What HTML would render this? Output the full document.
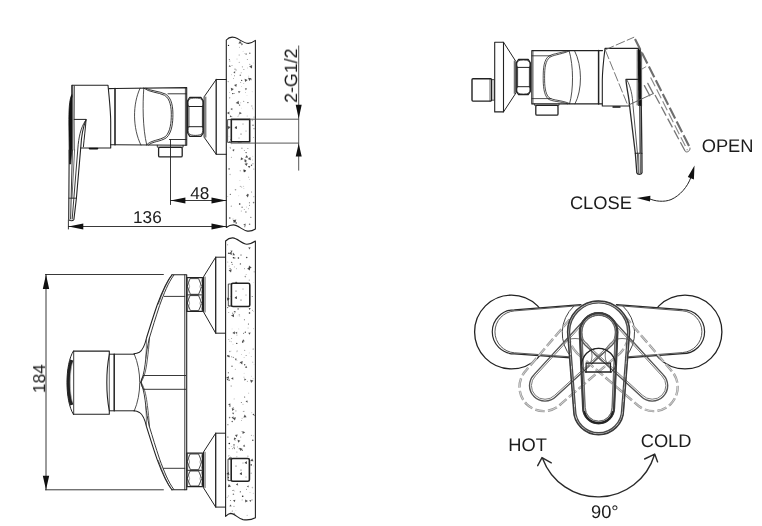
<!DOCTYPE html>
<html><head><meta charset="utf-8"><title>Faucet drawing</title>
<style>
html,body{margin:0;padding:0;background:#fff;}
body{width:762px;height:526px;overflow:hidden;}
svg{display:block;}
text{font-family:"Liberation Sans",sans-serif;fill:#1a1a1a;}
</style></head><body>
<svg width="762" height="526" viewBox="0 0 762 526">
<rect width="762" height="526" fill="#fff"/>
<g fill="none" stroke="#222" stroke-width="1" stroke-linecap="round" stroke-linejoin="round">

<!-- ================= VIEW 1 : side view top-left ================= -->
<!-- wall -->
<path d="M226.3,40 C229,37 232,36.6 235,37.6 C240,39.4 244,43.6 248.5,43.4 C251,43.2 253.5,41.8 255.4,40.4 L255.4,229 C253,230.6 250,231.4 247.4,231.1 C243,230.6 238,225 233.3,224.9 C230.5,224.9 228.3,226 226.3,227.5 Z" fill="#fff" stroke-width="1.1"/>
<g stroke="none">
<circle cx="236.1" cy="70.1" r="0.8" fill="#222" opacity="0.3"/>
<circle cx="229.4" cy="141.7" r="0.5" fill="#222" opacity="1"/>
<circle cx="229.0" cy="136.4" r="0.4" fill="#222" opacity="0.3"/>
<circle cx="239.1" cy="55.0" r="0.4" fill="#222" opacity="1"/>
<circle cx="238.8" cy="195.8" r="0.4" fill="#222" opacity="0.45"/>
<circle cx="244.3" cy="150.4" r="0.4" fill="#222" opacity="1"/>
<circle cx="243.1" cy="51.2" r="0.45" fill="#222" opacity="0.3"/>
<circle cx="242.4" cy="66.8" r="0.6" fill="#222" opacity="0.45"/>
<circle cx="241.9" cy="148.2" r="0.7" fill="#222" opacity="0.45"/>
<circle cx="230.3" cy="148.2" r="0.45" fill="#222" opacity="0.6"/>
<circle cx="230.1" cy="174.5" r="0.7" fill="#222" opacity="0.3"/>
<circle cx="244.0" cy="134.3" r="0.7" fill="#222" opacity="0.8"/>
<circle cx="248.3" cy="128.6" r="0.6" fill="#222" opacity="0.6"/>
<circle cx="235.5" cy="189.8" r="0.8" fill="#222" opacity="0.45"/>
<circle cx="229.7" cy="97.8" r="0.6" fill="#222" opacity="0.6"/>
<circle cx="247.0" cy="95.6" r="0.4" fill="#222" opacity="0.3"/>
<circle cx="241.2" cy="72.7" r="0.5" fill="#222" opacity="0.45"/>
<circle cx="252.4" cy="120.4" r="0.8" fill="#222" opacity="0.3"/>
<circle cx="247.9" cy="148.6" r="0.5" fill="#222" opacity="0.6"/>
<circle cx="246.1" cy="152.6" r="0.7" fill="#222" opacity="0.8"/>
<circle cx="229.3" cy="59.4" r="0.5" fill="#222" opacity="0.8"/>
<circle cx="246.1" cy="54.1" r="0.8" fill="#222" opacity="0.6"/>
<circle cx="244.8" cy="226.7" r="0.6" fill="#222" opacity="0.6"/>
<circle cx="246.6" cy="207.0" r="0.5" fill="#222" opacity="0.3"/>
<circle cx="252.6" cy="108.1" r="0.7" fill="#222" opacity="0.3"/>
<circle cx="240.7" cy="82.6" r="0.5" fill="#222" opacity="0.45"/>
<circle cx="247.2" cy="116.0" r="0.6" fill="#222" opacity="0.3"/>
<circle cx="231.9" cy="116.7" r="0.5" fill="#222" opacity="0.45"/>
<circle cx="249.4" cy="202.7" r="0.5" fill="#222" opacity="0.8"/>
<circle cx="253.8" cy="169.0" r="0.6" fill="#222" opacity="0.45"/>
<circle cx="231.5" cy="74.8" r="0.45" fill="#222" opacity="0.45"/>
<circle cx="227.8" cy="196.6" r="0.45" fill="#222" opacity="0.6"/>
<circle cx="235.0" cy="69.1" r="0.7" fill="#222" opacity="0.6"/>
<circle cx="243.8" cy="101.3" r="0.45" fill="#222" opacity="1"/>
<circle cx="252.9" cy="163.8" r="0.8" fill="#222" opacity="0.3"/>
<circle cx="239.7" cy="204.0" r="0.8" fill="#222" opacity="1"/>
<circle cx="238.0" cy="116.2" r="0.4" fill="#222" opacity="0.8"/>
<circle cx="244.4" cy="53.6" r="0.4" fill="#222" opacity="0.45"/>
<circle cx="239.3" cy="62.4" r="0.7" fill="#222" opacity="0.3"/>
<circle cx="230.2" cy="147.4" r="0.7" fill="#222" opacity="0.3"/>
<circle cx="252.8" cy="156.2" r="0.4" fill="#222" opacity="0.45"/>
<circle cx="243.9" cy="69.6" r="0.5" fill="#222" opacity="0.6"/>
<circle cx="243.6" cy="130.2" r="0.4" fill="#222" opacity="0.8"/>
<circle cx="254.0" cy="128.7" r="0.6" fill="#222" opacity="0.6"/>
<circle cx="229.8" cy="61.0" r="0.5" fill="#222" opacity="0.6"/>
<circle cx="240.3" cy="170.7" r="0.7" fill="#222" opacity="0.3"/>
<circle cx="233.0" cy="219.1" r="0.5" fill="#222" opacity="0.45"/>
<circle cx="245.9" cy="212.0" r="0.7" fill="#222" opacity="0.6"/>
<circle cx="253.6" cy="202.6" r="0.8" fill="#222" opacity="0.6"/>
<circle cx="241.3" cy="210.9" r="0.5" fill="#222" opacity="0.45"/>
<circle cx="241.7" cy="186.9" r="0.5" fill="#222" opacity="0.45"/>
<circle cx="243.9" cy="188.6" r="0.45" fill="#222" opacity="0.45"/>
<circle cx="249.3" cy="179.6" r="0.45" fill="#222" opacity="0.45"/>
<circle cx="241.3" cy="108.1" r="0.4" fill="#222" opacity="0.3"/>
<circle cx="248.6" cy="129.8" r="0.45" fill="#222" opacity="1"/>
<circle cx="253.0" cy="125.2" r="0.8" fill="#222" opacity="0.6"/>
<circle cx="253.0" cy="109.8" r="0.45" fill="#222" opacity="0.3"/>
<circle cx="233.6" cy="78.6" r="0.45" fill="#222" opacity="0.8"/>
<circle cx="244.2" cy="209.5" r="0.4" fill="#222" opacity="0.8"/>
<circle cx="251.8" cy="106.0" r="0.8" fill="#222" opacity="0.3"/>
<circle cx="249.8" cy="64.3" r="0.6" fill="#222" opacity="0.45"/>
<circle cx="240.3" cy="75.2" r="0.8" fill="#222" opacity="0.6"/>
<circle cx="229.8" cy="218.0" r="0.8" fill="#222" opacity="0.8"/>
<circle cx="239.9" cy="180.3" r="0.4" fill="#222" opacity="0.45"/>
<circle cx="232.0" cy="65.6" r="0.45" fill="#222" opacity="1"/>
<circle cx="251.7" cy="192.0" r="0.45" fill="#222" opacity="1"/>
<circle cx="249.6" cy="224.3" r="0.8" fill="#222" opacity="0.6"/>
<circle cx="231.7" cy="144.0" r="0.4" fill="#222" opacity="0.3"/>
<circle cx="248.8" cy="177.1" r="0.4" fill="#222" opacity="1"/>
<circle cx="247.5" cy="67.9" r="0.45" fill="#222" opacity="0.45"/>
<circle cx="228.2" cy="81.6" r="0.7" fill="#222" opacity="0.45"/>
<circle cx="247.9" cy="102.6" r="0.7" fill="#222" opacity="0.8"/>
<circle cx="249.8" cy="53.3" r="0.8" fill="#222" opacity="0.6"/>
<circle cx="251.5" cy="165.2" r="0.7" fill="#222" opacity="0.8"/>
<circle cx="249.6" cy="205.3" r="0.45" fill="#222" opacity="1"/>
<circle cx="231.6" cy="137.0" r="0.6" fill="#222" opacity="0.45"/>
<circle cx="243.7" cy="186.3" r="0.45" fill="#222" opacity="0.45"/>
<circle cx="231.3" cy="157.2" r="0.4" fill="#222" opacity="1"/>
<circle cx="229.1" cy="168.9" r="0.7" fill="#222" opacity="1"/>
<circle cx="240.4" cy="186.4" r="0.7" fill="#222" opacity="0.3"/>
<circle cx="234.1" cy="93.5" r="0.4" fill="#222" opacity="1"/>
<circle cx="239.6" cy="47.2" r="0.4" fill="#222" opacity="0.8"/>
<circle cx="236.2" cy="223.0" r="0.7" fill="#222" opacity="1"/>
<circle cx="232.8" cy="93.6" r="0.7" fill="#222" opacity="1"/>
<circle cx="249.1" cy="136.4" r="0.45" fill="#222" opacity="1"/>
<circle cx="250.9" cy="217.2" r="0.5" fill="#222" opacity="1"/>
<circle cx="251.3" cy="79.7" r="0.6" fill="#222" opacity="0.45"/>
<circle cx="238.6" cy="115.0" r="0.5" fill="#222" opacity="0.3"/>
<circle cx="245.4" cy="121.7" r="0.45" fill="#222" opacity="0.6"/>
<circle cx="248.4" cy="208.8" r="0.45" fill="#222" opacity="0.6"/>
<circle cx="231.3" cy="206.2" r="0.6" fill="#222" opacity="0.45"/>
<circle cx="247.4" cy="59.5" r="0.6" fill="#222" opacity="0.45"/>
<circle cx="253.9" cy="196.8" r="0.45" fill="#222" opacity="0.8"/>
<circle cx="254.0" cy="117.1" r="0.6" fill="#222" opacity="0.45"/>
<circle cx="237.0" cy="59.1" r="0.5" fill="#222" opacity="0.3"/>
<circle cx="236.5" cy="127.3" r="0.8" fill="#222" opacity="0.3"/>
<circle cx="237.8" cy="138.2" r="0.5" fill="#222" opacity="1"/>
<circle cx="253.2" cy="63.0" r="0.45" fill="#222" opacity="0.3"/>
<circle cx="229.7" cy="92.6" r="0.45" fill="#222" opacity="0.6"/>
<circle cx="247.7" cy="194.5" r="0.8" fill="#222" opacity="0.6"/>
<circle cx="238.3" cy="141.8" r="0.7" fill="#222" opacity="1"/>
<circle cx="240.7" cy="102.8" r="0.5" fill="#222" opacity="0.3"/>
<circle cx="248.8" cy="76.1" r="0.4" fill="#222" opacity="0.6"/>
<circle cx="252.6" cy="160.0" r="0.5" fill="#222" opacity="0.3"/>
<circle cx="243.7" cy="83.4" r="0.5" fill="#222" opacity="0.3"/>
<circle cx="239.6" cy="105.1" r="0.7" fill="#222" opacity="0.8"/>
<circle cx="252.2" cy="91.8" r="0.45" fill="#222" opacity="0.3"/>
<circle cx="241.6" cy="86.3" r="0.4" fill="#222" opacity="0.45"/>
<circle cx="234.5" cy="75.7" r="0.5" fill="#222" opacity="0.6"/>
<circle cx="241.7" cy="80.3" r="0.6" fill="#222" opacity="1"/>
<circle cx="245.4" cy="92.3" r="0.4" fill="#222" opacity="0.6"/>
<circle cx="228.5" cy="45.4" r="0.7" fill="#222" opacity="1"/>
<circle cx="253.6" cy="137.6" r="0.45" fill="#222" opacity="0.8"/>
<circle cx="230.3" cy="194.3" r="0.6" fill="#222" opacity="0.8"/>
<circle cx="242.1" cy="207.3" r="0.7" fill="#222" opacity="0.6"/>
<polygon points="245.5,223.4 245.6,226.0 243.3,224.7" fill="#333" opacity="0.85"/>
<polygon points="244.4,161.6 244.6,158.9 246.8,160.4" fill="#333" opacity="0.85"/>
<polygon points="229.7,64.9 230.9,66.7 228.7,66.8" fill="#333" opacity="0.85"/>
<polygon points="235.2,71.3 235.1,73.5 233.3,72.3" fill="#333" opacity="0.85"/>
<polygon points="249.2,168.2 247.8,166.1 250.4,165.9" fill="#333" opacity="0.85"/>
<polygon points="234.2,127.9 235.7,126.1 236.5,128.3" fill="#333" opacity="0.85"/>
<polygon points="232.8,220.3 236.3,219.5 235.2,222.9" fill="#333" opacity="0.85"/>
<polygon points="233.4,222.8 233.7,220.2 235.8,221.8" fill="#333" opacity="0.85"/>
<polygon points="226.9,113.0 229.4,111.6 229.3,114.4" fill="#333" opacity="0.85"/>
<polygon points="233.2,137.1 232.3,135.2 234.4,135.4" fill="#333" opacity="0.85"/>
<polygon points="231.9,116.5 229.9,117.3 230.2,115.2" fill="#333" opacity="0.85"/>
<polygon points="234.0,85.0 236.8,84.0 236.3,86.9" fill="#333" opacity="0.85"/>
<polygon points="247.6,163.0 246.7,166.1 244.5,163.8" fill="#333" opacity="0.85"/>
<polygon points="239.0,104.3 235.7,102.9 238.6,100.8" fill="#333" opacity="0.85"/>
<polygon points="246.3,160.6 246.3,162.7 244.4,161.6" fill="#333" opacity="0.85"/>
<polygon points="250.3,157.0 250.8,160.2 247.8,158.9" fill="#333" opacity="0.85"/>
<polygon points="232.6,138.0 232.6,140.9 230.1,139.4" fill="#333" opacity="0.85"/>
<polygon points="248.9,194.6 247.8,197.4 246.0,195.1" fill="#333" opacity="0.85"/>
<polygon points="246.1,171.2 243.8,172.0 244.2,169.6" fill="#333" opacity="0.85"/>
<polygon points="232.3,108.0 232.3,110.2 230.4,109.1" fill="#333" opacity="0.85"/>
<polygon points="241.0,157.2 243.5,158.9 240.7,160.2" fill="#333" opacity="0.85"/>
<polygon points="240.1,40.7 241.8,43.6 238.4,43.6" fill="#333" opacity="0.85"/>
<polygon points="242.1,142.3 239.0,142.6 240.2,139.8" fill="#333" opacity="0.85"/>
<polygon points="245.8,90.2 244.9,88.2 247.1,88.4" fill="#333" opacity="0.85"/>
<polygon points="247.6,79.9 245.1,81.9 244.6,78.7" fill="#333" opacity="0.85"/>
<polygon points="239.5,111.7 241.8,113.3 239.2,114.5" fill="#333" opacity="0.85"/>
<polygon points="248.2,157.6 245.2,157.7 246.6,155.0" fill="#333" opacity="0.85"/>
<polygon points="231.4,91.0 230.8,87.8 233.8,88.9" fill="#333" opacity="0.85"/>
<polygon points="241.8,45.6 240.9,43.6 243.1,43.8" fill="#333" opacity="0.85"/>
<polygon points="244.0,172.5 243.1,169.5 246.2,170.3" fill="#333" opacity="0.85"/>
<polygon points="241.9,129.5 239.2,128.9 241.1,126.8" fill="#333" opacity="0.85"/>
<polygon points="251.6,78.2 249.4,81.1 248.0,77.8" fill="#333" opacity="0.85"/>
<polygon points="230.8,127.0 228.3,129.2 227.6,125.9" fill="#333" opacity="0.85"/>
<polygon points="240.5,91.5 238.9,93.3 238.1,91.1" fill="#333" opacity="0.85"/>
<polygon points="232.2,150.0 234.3,149.1 234.0,151.4" fill="#333" opacity="0.85"/>
<polygon points="249.1,66.6 252.1,65.0 252.0,68.4" fill="#333" opacity="0.85"/>
</g>
<!-- pipe socket -->
<rect x="231.3" y="119.4" width="18.4" height="22.4" stroke-width="1.6" fill="#fff"/>
<g stroke="none"><circle cx="236" cy="127" r="0.5" fill="#222"/><polygon points="234.5,128 236.6,126 237,129" fill="#333"/><circle cx="243" cy="124" r="0.45" fill="#222"/><circle cx="241" cy="134" r="0.5" fill="#222"/><circle cx="246" cy="131" r="0.4" fill="#222"/><circle cx="239" cy="138" r="0.4" fill="#222"/></g>
<path d="M231.3,119.6 L227.6,119.6 L227.6,142.4 L231.3,142.4" stroke-width="0.8"/>
<!-- G1/2 dimension -->
<path d="M249.8,119.2 L298.7,119.2 M231,143.1 L298.7,143.1" stroke-width="0.9" stroke="#444"/>
<path d="M298.7,45.9 L298.7,170.2" stroke-width="0.9" stroke="#444"/>
<path d="M298.7,118.8 L295.7,104.7 L301.7,104.7 Z M298.7,143.4 L295.7,156.5 L301.7,156.5 Z" fill="#111" stroke="none"/>

<!-- flange -->
<path d="M226.3,79.5 L216.2,79.5 L204.1,96.8 L204.1,137.2 L216.2,154.3 L226.3,154.3"/>
<path d="M216.2,79.5 L216.2,154.3" stroke-width="1.3"/>
<path d="M205.8,97 L205.8,137.2" stroke-width="0.8"/>
<!-- hex nut -->
<path d="M189.8,97.3 L200.9,97.3 L203.3,100.9 L203.3,132.8 L200.9,136.4 L189.8,136.4 L187.5,132.8 L187.5,100.9 Z" stroke-width="1.2"/>
<path d="M188.9,106.5 L202.4,106.5 M188.9,126.7 L202.4,126.7" stroke-width="1"/>
<path d="M188.9,106.5 L188.9,126.7 M202.4,106.5 L202.4,126.7" stroke-width="0.9"/>
<path d="M188.9,106.5 C187.6,104 187.8,101.5 189,99.4 C191,97.6 199.8,97.6 201.8,99.4 C203,101.5 203.2,104 202.4,106.5" stroke-width="0.8"/>
<path d="M188.9,126.7 C187.6,129.2 187.8,131.7 189,133.8 C191,135.9 199.8,135.9 201.8,133.8 C203,131.7 203.2,129.2 202.4,126.7" stroke-width="0.8"/>
<!-- body -->
<path d="M109,88.6 L115,88.5 L186.7,87.6 L186.7,145.3 L115,144.8 L110.6,144.7" stroke-width="1.1"/>
<path d="M115,88.5 L115,144.8" stroke-width="1.6"/>
<path d="M185.4,87.8 L185.4,145.2" stroke-width="0.8"/>
<path d="M168,93.8 L186.3,93.8 M169.4,139.5 L186.3,139.5" stroke-width="0.9"/>
<!-- deco curves -->
<path d="M140.1,88.2 C132.5,104 132.5,128 140.9,145" stroke-width="0.8"/>
<path d="M143.8,88.2 C142.6,104 142.6,128 146.7,144.8" stroke-width="0.8"/>
<path d="M143.8,88.2 C149,92.3 158.5,92.3 164.5,95.3 C170.5,98.8 171.3,108 171.3,114.6 C171.3,122 170.5,131.5 165.5,136.5 C159.5,140.5 151,140 146.7,144.8" stroke-width="0.9"/>
<path d="M146,88.3 C150.5,91 159,91 165.5,94.1 C172.1,97.8 172.9,108 172.9,114.6 C172.9,122 172.1,132.5 166.5,137.7 C160.5,141.8 152,141.4 148.6,145" stroke-width="0.9"/>
<!-- outlet nipple -->
<path d="M157.3,145.3 L157.3,147.2 L183.1,147.2 L183.1,145.3" stroke-width="0.9"/>
<rect x="158.6" y="147.3" width="23.6" height="9.6" rx="1.2" stroke-width="1.3" fill="#fff"/>
<!-- cap -->
<path d="M72,97 L72,85.3 L108,85.3 C109.5,100 110.7,112 110.7,122 L110.7,148 L80.5,148" stroke-width="1.1"/>
<path d="M89.5,148.6 L97.5,148.6" stroke-width="1.6" stroke="#111"/>
<!-- lever -->
<path d="M72,85.3 L72,150 M74.2,86 L74,119.4 L86.1,119.4 C85.5,128 84.2,138 83.4,146.8" stroke-width="1"/>
<path d="M74,119.4 L74.2,150" stroke-width="0.9"/>
<path d="M71.6,95 C69.2,100 68.8,110 68.9,125 L69.2,150 L69.5,164 L70.6,164 L72,148 L72,97 Z" fill="#111" stroke="#111" stroke-width="0.8"/>
<path d="M69.2,150 L68.7,219.4 C69.4,221.2 73,221.2 73.9,219.4 L76.4,198.2 L80.8,147 C81.4,136 83,127 86.1,119.6" stroke-width="1.1"/>
<path d="M72.4,150 L70.6,219 M85.2,121 C80.6,128 78.6,138 77.9,148 L72.2,219" stroke-width="0.9"/>
<path d="M74.6,150 L72,198" stroke-width="0.8" stroke="#444"/>
<path d="M69,198.2 L76.4,198.2" stroke-width="0.9"/>

<!-- dim 48 -->
<path d="M170.5,139.6 L170.5,204.5" stroke-width="0.9"/>
<path d="M170.5,200.5 L226.3,200.5" stroke-width="0.9"/>
<path d="M170.6,200.5 L185.4,197.4 L185.4,203.6 Z M226.3,200.5 L211.5,197.4 L211.5,203.6 Z" fill="#111" stroke="none"/>
<!-- dim 136 -->
<path d="M68.4,220 L68.4,229" stroke-width="0.9"/>
<path d="M68.4,226.5 L226.3,226.5" stroke-width="0.9"/>
<path d="M68.5,226.5 L83.3,223.4 L83.3,229.6 Z M226.3,226.5 L211.5,223.4 L211.5,229.6 Z" fill="#111" stroke="none"/>

<!-- ================= VIEW 2 : top view bottom-left ================= -->
<path d="M225.6,241 C228,238.6 230.5,237.8 232.8,237.9 C237.5,238.2 242,244 246.9,244.2 C250,244.2 253,242.6 255.4,241 L255.4,517.8 C252,519.6 248,520.4 243,519.6 C238,518.6 235,513.4 230.6,513.4 C228.6,513.6 227,515 225.6,516.4 Z" fill="#fff" stroke-width="1.1"/>
<g stroke="none">
<circle cx="251.3" cy="435.3" r="0.45" fill="#222" opacity="0.8"/>
<circle cx="251.6" cy="376.2" r="0.4" fill="#222" opacity="0.45"/>
<circle cx="227.1" cy="377.7" r="0.6" fill="#222" opacity="0.8"/>
<circle cx="235.3" cy="282.3" r="0.5" fill="#222" opacity="0.8"/>
<circle cx="235.7" cy="472.5" r="0.4" fill="#222" opacity="0.6"/>
<circle cx="247.6" cy="472.2" r="0.4" fill="#222" opacity="0.45"/>
<circle cx="246.5" cy="489.2" r="0.5" fill="#222" opacity="0.6"/>
<circle cx="237.2" cy="350.9" r="0.7" fill="#222" opacity="0.3"/>
<circle cx="236.9" cy="360.4" r="0.5" fill="#222" opacity="0.3"/>
<circle cx="234.7" cy="258.0" r="0.8" fill="#222" opacity="0.6"/>
<circle cx="244.4" cy="284.5" r="0.5" fill="#222" opacity="0.8"/>
<circle cx="241.0" cy="295.6" r="0.5" fill="#222" opacity="0.8"/>
<circle cx="251.2" cy="464.9" r="0.8" fill="#222" opacity="0.8"/>
<circle cx="252.0" cy="499.9" r="0.7" fill="#222" opacity="0.45"/>
<circle cx="246.7" cy="257.5" r="0.8" fill="#222" opacity="0.8"/>
<circle cx="239.4" cy="448.7" r="0.8" fill="#222" opacity="0.6"/>
<circle cx="240.3" cy="492.0" r="0.7" fill="#222" opacity="0.45"/>
<circle cx="231.7" cy="356.8" r="0.5" fill="#222" opacity="0.6"/>
<circle cx="234.0" cy="444.9" r="0.8" fill="#222" opacity="0.6"/>
<circle cx="238.1" cy="308.9" r="0.6" fill="#222" opacity="1"/>
<circle cx="245.3" cy="276.6" r="0.8" fill="#222" opacity="0.45"/>
<circle cx="229.1" cy="380.2" r="0.6" fill="#222" opacity="1"/>
<circle cx="233.0" cy="490.5" r="0.6" fill="#222" opacity="0.8"/>
<circle cx="230.8" cy="296.3" r="0.4" fill="#222" opacity="0.45"/>
<circle cx="236.4" cy="268.8" r="0.45" fill="#222" opacity="0.6"/>
<circle cx="234.1" cy="398.9" r="0.4" fill="#222" opacity="0.8"/>
<circle cx="237.5" cy="446.9" r="0.45" fill="#222" opacity="0.8"/>
<circle cx="234.4" cy="448.6" r="0.6" fill="#222" opacity="0.6"/>
<circle cx="242.7" cy="342.0" r="0.8" fill="#222" opacity="1"/>
<circle cx="241.5" cy="459.0" r="0.45" fill="#222" opacity="0.3"/>
<circle cx="234.4" cy="311.6" r="0.6" fill="#222" opacity="0.8"/>
<circle cx="238.8" cy="328.9" r="0.4" fill="#222" opacity="0.45"/>
<circle cx="227.9" cy="437.0" r="0.6" fill="#222" opacity="1"/>
<circle cx="240.4" cy="263.9" r="0.7" fill="#222" opacity="0.8"/>
<circle cx="253.6" cy="311.6" r="0.4" fill="#222" opacity="0.45"/>
<circle cx="231.2" cy="386.1" r="0.8" fill="#222" opacity="0.3"/>
<circle cx="252.8" cy="440.3" r="0.8" fill="#222" opacity="0.8"/>
<circle cx="229.3" cy="455.3" r="0.4" fill="#222" opacity="0.45"/>
<circle cx="233.4" cy="494.2" r="0.8" fill="#222" opacity="0.6"/>
<circle cx="253.4" cy="414.4" r="0.7" fill="#222" opacity="0.8"/>
<circle cx="246.1" cy="274.5" r="0.4" fill="#222" opacity="0.6"/>
<circle cx="241.4" cy="402.5" r="0.6" fill="#222" opacity="0.6"/>
<circle cx="233.1" cy="407.5" r="0.4" fill="#222" opacity="1"/>
<circle cx="235.3" cy="369.3" r="0.5" fill="#222" opacity="0.45"/>
<circle cx="240.0" cy="307.9" r="0.45" fill="#222" opacity="0.3"/>
<circle cx="253.3" cy="435.7" r="0.5" fill="#222" opacity="0.3"/>
<circle cx="227.6" cy="379.5" r="0.8" fill="#222" opacity="0.8"/>
<circle cx="229.2" cy="306.0" r="0.6" fill="#222" opacity="0.6"/>
<circle cx="233.2" cy="253.3" r="0.5" fill="#222" opacity="0.8"/>
<circle cx="236.9" cy="351.8" r="0.4" fill="#222" opacity="0.6"/>
<circle cx="247.3" cy="381.3" r="0.45" fill="#222" opacity="0.8"/>
<circle cx="253.6" cy="328.8" r="0.45" fill="#222" opacity="0.45"/>
<circle cx="239.7" cy="316.1" r="0.5" fill="#222" opacity="0.3"/>
<circle cx="253.1" cy="378.8" r="0.45" fill="#222" opacity="0.45"/>
<circle cx="240.3" cy="491.6" r="0.4" fill="#222" opacity="1"/>
<circle cx="231.0" cy="351.0" r="0.45" fill="#222" opacity="0.3"/>
<circle cx="253.7" cy="282.6" r="0.4" fill="#222" opacity="0.3"/>
<circle cx="232.0" cy="366.3" r="0.8" fill="#222" opacity="0.6"/>
<circle cx="247.1" cy="515.3" r="0.45" fill="#222" opacity="0.6"/>
<circle cx="232.2" cy="421.5" r="0.7" fill="#222" opacity="0.8"/>
<circle cx="227.9" cy="424.7" r="0.6" fill="#222" opacity="0.6"/>
<circle cx="254.0" cy="364.3" r="0.4" fill="#222" opacity="0.3"/>
<circle cx="229.1" cy="266.0" r="0.6" fill="#222" opacity="0.3"/>
<circle cx="242.4" cy="450.4" r="0.6" fill="#222" opacity="0.6"/>
<circle cx="248.1" cy="328.0" r="0.6" fill="#222" opacity="0.3"/>
<circle cx="228.3" cy="372.8" r="0.5" fill="#222" opacity="1"/>
<circle cx="252.2" cy="296.5" r="0.5" fill="#222" opacity="0.8"/>
<circle cx="227.8" cy="355.7" r="0.8" fill="#222" opacity="0.8"/>
<circle cx="228.1" cy="253.5" r="0.4" fill="#222" opacity="0.3"/>
<circle cx="234.0" cy="447.3" r="0.7" fill="#222" opacity="0.6"/>
<circle cx="236.9" cy="335.1" r="0.7" fill="#222" opacity="0.3"/>
<circle cx="234.2" cy="438.9" r="0.5" fill="#222" opacity="0.6"/>
<circle cx="235.1" cy="440.3" r="0.7" fill="#222" opacity="0.3"/>
<circle cx="227.7" cy="307.6" r="0.6" fill="#222" opacity="0.8"/>
<circle cx="253.1" cy="349.1" r="0.5" fill="#222" opacity="0.8"/>
<circle cx="249.3" cy="280.1" r="0.6" fill="#222" opacity="0.45"/>
<circle cx="227.2" cy="497.2" r="0.5" fill="#222" opacity="0.45"/>
<circle cx="243.6" cy="333.2" r="0.5" fill="#222" opacity="0.8"/>
<circle cx="236.9" cy="456.8" r="0.4" fill="#222" opacity="1"/>
<circle cx="232.4" cy="448.8" r="0.45" fill="#222" opacity="0.8"/>
<circle cx="228.8" cy="253.2" r="0.7" fill="#222" opacity="1"/>
<circle cx="235.9" cy="510.6" r="0.4" fill="#222" opacity="0.3"/>
<circle cx="234.3" cy="266.9" r="0.4" fill="#222" opacity="0.8"/>
<circle cx="240.7" cy="437.1" r="0.6" fill="#222" opacity="0.45"/>
<circle cx="233.4" cy="357.4" r="0.7" fill="#222" opacity="0.45"/>
<circle cx="247.5" cy="474.4" r="0.8" fill="#222" opacity="0.3"/>
<circle cx="248.4" cy="323.9" r="0.5" fill="#222" opacity="1"/>
<circle cx="234.3" cy="313.1" r="0.5" fill="#222" opacity="0.45"/>
<circle cx="239.0" cy="294.5" r="0.45" fill="#222" opacity="0.45"/>
<circle cx="234.7" cy="490.9" r="0.45" fill="#222" opacity="0.6"/>
<circle cx="228.8" cy="312.4" r="0.45" fill="#222" opacity="1"/>
<circle cx="241.4" cy="420.7" r="0.4" fill="#222" opacity="0.8"/>
<circle cx="254.2" cy="271.8" r="0.6" fill="#222" opacity="0.45"/>
<circle cx="250.0" cy="492.7" r="0.4" fill="#222" opacity="0.6"/>
<circle cx="233.4" cy="257.7" r="0.7" fill="#222" opacity="1"/>
<circle cx="232.3" cy="264.4" r="0.7" fill="#222" opacity="0.45"/>
<circle cx="239.3" cy="314.7" r="0.8" fill="#222" opacity="0.3"/>
<circle cx="229.9" cy="406.2" r="0.7" fill="#222" opacity="0.6"/>
<circle cx="233.0" cy="344.3" r="0.45" fill="#222" opacity="0.3"/>
<circle cx="232.6" cy="313.3" r="0.7" fill="#222" opacity="0.45"/>
<circle cx="249.3" cy="466.7" r="0.6" fill="#222" opacity="0.6"/>
<circle cx="232.1" cy="328.9" r="0.45" fill="#222" opacity="0.3"/>
<circle cx="248.8" cy="393.1" r="0.4" fill="#222" opacity="0.8"/>
<circle cx="229.8" cy="351.5" r="0.7" fill="#222" opacity="0.45"/>
<circle cx="244.5" cy="268.8" r="0.45" fill="#222" opacity="0.8"/>
<circle cx="246.1" cy="355.5" r="0.5" fill="#222" opacity="0.6"/>
<circle cx="238.4" cy="258.0" r="0.8" fill="#222" opacity="1"/>
<circle cx="251.2" cy="356.6" r="0.4" fill="#222" opacity="0.6"/>
<circle cx="244.7" cy="350.3" r="0.6" fill="#222" opacity="0.45"/>
<circle cx="252.8" cy="362.1" r="0.45" fill="#222" opacity="0.8"/>
<circle cx="230.1" cy="268.6" r="0.7" fill="#222" opacity="0.6"/>
<circle cx="239.6" cy="288.2" r="0.4" fill="#222" opacity="0.3"/>
<circle cx="242.1" cy="418.3" r="0.6" fill="#222" opacity="0.3"/>
<circle cx="242.7" cy="496.2" r="0.8" fill="#222" opacity="1"/>
<circle cx="231.7" cy="338.6" r="0.45" fill="#222" opacity="1"/>
<circle cx="231.7" cy="262.3" r="0.6" fill="#222" opacity="0.8"/>
<circle cx="247.6" cy="459.5" r="0.45" fill="#222" opacity="0.6"/>
<circle cx="230.5" cy="500.5" r="0.6" fill="#222" opacity="0.6"/>
<circle cx="228.5" cy="495.9" r="0.6" fill="#222" opacity="0.3"/>
<circle cx="251.8" cy="412.7" r="0.45" fill="#222" opacity="0.45"/>
<circle cx="244.0" cy="411.2" r="0.45" fill="#222" opacity="0.8"/>
<circle cx="232.0" cy="303.3" r="0.6" fill="#222" opacity="1"/>
<circle cx="231.3" cy="341.7" r="0.45" fill="#222" opacity="0.45"/>
<circle cx="253.6" cy="465.9" r="0.45" fill="#222" opacity="0.3"/>
<circle cx="251.2" cy="473.2" r="0.8" fill="#222" opacity="0.3"/>
<circle cx="245.3" cy="332.2" r="0.6" fill="#222" opacity="1"/>
<circle cx="239.5" cy="474.9" r="0.5" fill="#222" opacity="0.8"/>
<circle cx="235.4" cy="311.8" r="0.6" fill="#222" opacity="0.6"/>
<circle cx="239.2" cy="363.2" r="0.4" fill="#222" opacity="0.3"/>
<circle cx="244.0" cy="377.1" r="0.45" fill="#222" opacity="0.8"/>
<circle cx="247.9" cy="456.2" r="0.6" fill="#222" opacity="0.45"/>
<circle cx="249.2" cy="352.9" r="0.4" fill="#222" opacity="0.45"/>
<circle cx="236.8" cy="343.4" r="0.6" fill="#222" opacity="1"/>
<circle cx="241.0" cy="255.1" r="0.8" fill="#222" opacity="0.45"/>
<circle cx="229.3" cy="443.5" r="0.8" fill="#222" opacity="1"/>
<circle cx="229.2" cy="448.6" r="0.6" fill="#222" opacity="0.45"/>
<circle cx="227.7" cy="262.1" r="0.7" fill="#222" opacity="0.3"/>
<circle cx="232.3" cy="511.0" r="0.6" fill="#222" opacity="0.6"/>
<circle cx="253.2" cy="493.2" r="0.45" fill="#222" opacity="0.45"/>
<circle cx="228.8" cy="339.4" r="0.5" fill="#222" opacity="0.45"/>
<circle cx="235.9" cy="410.9" r="0.6" fill="#222" opacity="0.45"/>
<circle cx="234.0" cy="506.3" r="0.6" fill="#222" opacity="0.45"/>
<circle cx="243.2" cy="411.5" r="0.45" fill="#222" opacity="0.6"/>
<circle cx="237.2" cy="298.1" r="0.6" fill="#222" opacity="0.45"/>
<circle cx="244.4" cy="319.7" r="0.5" fill="#222" opacity="0.8"/>
<circle cx="231.6" cy="457.5" r="0.4" fill="#222" opacity="1"/>
<circle cx="228.3" cy="477.5" r="0.6" fill="#222" opacity="1"/>
<circle cx="241.3" cy="431.3" r="0.4" fill="#222" opacity="0.6"/>
<circle cx="254.2" cy="415.3" r="0.6" fill="#222" opacity="0.6"/>
<circle cx="234.3" cy="513.4" r="0.7" fill="#222" opacity="0.45"/>
<circle cx="236.9" cy="452.0" r="0.6" fill="#222" opacity="0.45"/>
<circle cx="231.8" cy="446.3" r="0.4" fill="#222" opacity="0.6"/>
<circle cx="249.5" cy="313.0" r="0.8" fill="#222" opacity="1"/>
<circle cx="252.4" cy="487.6" r="0.8" fill="#222" opacity="0.3"/>
<circle cx="247.5" cy="304.3" r="0.5" fill="#222" opacity="1"/>
<circle cx="244.1" cy="357.6" r="0.5" fill="#222" opacity="0.3"/>
<circle cx="230.6" cy="305.8" r="0.8" fill="#222" opacity="0.3"/>
<circle cx="227.6" cy="244.7" r="0.5" fill="#222" opacity="0.6"/>
<circle cx="229.9" cy="341.1" r="0.45" fill="#222" opacity="0.8"/>
<circle cx="243.0" cy="404.2" r="0.45" fill="#222" opacity="0.6"/>
<circle cx="244.1" cy="373.2" r="0.45" fill="#222" opacity="0.3"/>
<circle cx="252.7" cy="310.3" r="0.45" fill="#222" opacity="0.8"/>
<circle cx="229.6" cy="417.6" r="0.8" fill="#222" opacity="0.6"/>
<circle cx="238.0" cy="315.9" r="0.4" fill="#222" opacity="0.3"/>
<circle cx="244.7" cy="397.0" r="0.5" fill="#222" opacity="1"/>
<circle cx="244.7" cy="364.7" r="0.7" fill="#222" opacity="0.8"/>
<circle cx="233.8" cy="489.8" r="0.4" fill="#222" opacity="0.3"/>
<circle cx="241.6" cy="354.4" r="0.45" fill="#222" opacity="0.45"/>
<circle cx="228.6" cy="455.9" r="0.4" fill="#222" opacity="1"/>
<circle cx="242.1" cy="499.9" r="0.45" fill="#222" opacity="0.8"/>
<polygon points="231.8,408.1 234.5,409.1 232.3,410.9" fill="#333" opacity="0.85"/>
<polygon points="247.4,292.9 246.9,290.4 249.3,291.2" fill="#333" opacity="0.85"/>
<polygon points="228.8,484.0 231.0,486.5 227.8,487.2" fill="#333" opacity="0.85"/>
<polygon points="226.3,474.1 228.7,471.9 229.4,475.1" fill="#333" opacity="0.85"/>
<polygon points="247.2,367.9 244.8,367.6 246.3,365.7" fill="#333" opacity="0.85"/>
<polygon points="233.7,253.1 235.0,255.3 232.4,255.3" fill="#333" opacity="0.85"/>
<polygon points="244.8,475.8 243.5,472.9 246.6,473.2" fill="#333" opacity="0.85"/>
<polygon points="239.6,362.3 242.7,361.1 242.2,364.4" fill="#333" opacity="0.85"/>
<polygon points="234.9,420.6 232.5,418.0 236.0,417.2" fill="#333" opacity="0.85"/>
<polygon points="249.6,249.6 248.2,247.5 250.6,247.3" fill="#333" opacity="0.85"/>
<polygon points="245.3,502.6 245.1,499.4 248.0,500.9" fill="#333" opacity="0.85"/>
<polygon points="250.7,332.6 249.6,334.8 248.2,332.7" fill="#333" opacity="0.85"/>
<polygon points="245.2,432.2 242.7,434.1 242.3,431.0" fill="#333" opacity="0.85"/>
<polygon points="240.6,471.0 240.1,474.1 237.6,472.1" fill="#333" opacity="0.85"/>
<polygon points="238.1,442.7 237.6,439.8 240.4,440.8" fill="#333" opacity="0.85"/>
<polygon points="234.2,412.7 233.2,414.6 232.0,412.8" fill="#333" opacity="0.85"/>
<polygon points="232.7,250.8 231.4,252.6 230.5,250.6" fill="#333" opacity="0.85"/>
<polygon points="237.6,282.9 235.5,283.4 236.1,281.4" fill="#333" opacity="0.85"/>
<polygon points="244.7,414.6 246.6,417.2 243.4,417.5" fill="#333" opacity="0.85"/>
<polygon points="230.2,403.2 230.5,405.8 228.1,404.8" fill="#333" opacity="0.85"/>
<polygon points="248.8,485.5 248.4,487.6 246.8,486.2" fill="#333" opacity="0.85"/>
<polygon points="250.7,502.1 249.1,500.5 251.2,499.9" fill="#333" opacity="0.85"/>
<polygon points="231.5,251.5 231.9,254.9 228.8,253.6" fill="#333" opacity="0.85"/>
<polygon points="243.1,470.1 242.2,467.2 245.2,467.9" fill="#333" opacity="0.85"/>
<polygon points="231.0,272.4 228.6,270.2 231.7,269.3" fill="#333" opacity="0.85"/>
<polygon points="235.7,360.5 234.8,358.6 236.9,358.7" fill="#333" opacity="0.85"/>
<polygon points="234.2,440.1 234.0,437.4 236.4,438.6" fill="#333" opacity="0.85"/>
<polygon points="250.1,379.7 253.4,380.4 251.1,382.9" fill="#333" opacity="0.85"/>
<polygon points="229.0,354.7 230.0,357.3 227.3,356.9" fill="#333" opacity="0.85"/>
<polygon points="236.8,437.3 234.9,435.1 237.7,434.5" fill="#333" opacity="0.85"/>
<polygon points="250.0,270.4 247.1,268.7 250.0,267.1" fill="#333" opacity="0.85"/>
<polygon points="229.9,298.7 227.3,300.7 226.9,297.5" fill="#333" opacity="0.85"/>
<polygon points="228.6,375.9 229.2,378.7 226.5,377.9" fill="#333" opacity="0.85"/>
<polygon points="233.2,377.2 233.3,379.8 231.0,378.5" fill="#333" opacity="0.85"/>
<polygon points="234.7,502.2 233.0,500.3 235.4,499.7" fill="#333" opacity="0.85"/>
<polygon points="244.2,378.6 246.3,379.3 244.6,380.8" fill="#333" opacity="0.85"/>
<polygon points="230.4,456.5 231.3,459.6 228.2,458.8" fill="#333" opacity="0.85"/>
<polygon points="242.1,341.7 243.1,339.2 244.8,341.3" fill="#333" opacity="0.85"/>
<polygon points="251.7,267.8 248.5,269.0 249.0,265.6" fill="#333" opacity="0.85"/>
<polygon points="231.0,315.6 234.0,313.9 234.0,317.3" fill="#333" opacity="0.85"/>
<polygon points="235.9,484.8 237.6,483.1 238.2,485.5" fill="#333" opacity="0.85"/>
<polygon points="239.8,447.7 242.8,449.0 240.3,451.0" fill="#333" opacity="0.85"/>
<polygon points="237.2,331.7 237.1,334.0 235.2,332.8" fill="#333" opacity="0.85"/>
<polygon points="242.9,446.3 244.3,444.5 245.2,446.7" fill="#333" opacity="0.85"/>
<polygon points="245.6,401.8 247.2,400.3 247.8,402.5" fill="#333" opacity="0.85"/>
<polygon points="249.2,310.0 248.7,307.7 250.9,308.4" fill="#333" opacity="0.85"/>
<polygon points="245.9,474.6 243.8,473.6 245.7,472.3" fill="#333" opacity="0.85"/>
<polygon points="234.9,334.2 232.4,332.9 234.8,331.3" fill="#333" opacity="0.85"/>
<polygon points="235.7,293.4 237.9,296.3 234.4,296.8" fill="#333" opacity="0.85"/>
<polygon points="229.5,506.6 230.2,504.5 231.7,506.2" fill="#333" opacity="0.85"/>
<polygon points="250.3,461.0 252.2,458.4 253.5,461.3" fill="#333" opacity="0.85"/>
<polygon points="233.1,418.8 231.5,417.2 233.7,416.6" fill="#333" opacity="0.85"/>
</g>
<!-- sockets -->
<rect x="231.4" y="283.3" width="18.4" height="23.2" rx="1.6" stroke-width="1.6" fill="#fff"/>
<path d="M231.4,284 L228.3,284 L228.3,306 L231.4,306" stroke-width="0.8"/>
<rect x="231.2" y="458.5" width="18.2" height="22.8" rx="1.6" stroke-width="1.6" fill="#fff"/>
<path d="M231.2,459.2 L228,459.2 L228,480.6 L231.2,480.6" stroke-width="0.8"/>
<g stroke="none"><circle cx="236" cy="291" r="0.5" fill="#222"/><polygon points="234.5,298 236.6,296 237,299" fill="#333"/><circle cx="243" cy="289" r="0.45" fill="#222"/><circle cx="241" cy="300" r="0.5" fill="#222"/><circle cx="246" cy="295" r="0.4" fill="#222"/>
<circle cx="236" cy="466" r="0.5" fill="#222"/><polygon points="239.5,474 241.6,472 242,475" fill="#333"/><circle cx="243" cy="463" r="0.45" fill="#222"/><circle cx="241" cy="470" r="0.5" fill="#222"/><circle cx="246" cy="477" r="0.4" fill="#222"/><polygon points="244.5,463 246.6,461 247,464" fill="#333"/></g>

<!-- flanges -->
<path d="M225.6,257.2 L215.7,257.2 L203.5,276.8 L203.5,311.9 L215.7,333.2 L225.6,333.2"/>
<path d="M215.7,257.2 L215.7,333.2" stroke-width="1.3"/>
<path d="M205,277 L205,312" stroke-width="0.8"/>
<path d="M225.6,433.2 L215.7,433.2 L203.5,452 L203.5,487.8 L215.7,507.1 L225.6,507.1"/>
<path d="M215.7,433.2 L215.7,507.1" stroke-width="1.3"/>
<path d="M205,452.2 L205,487.6" stroke-width="0.8"/>
<!-- nuts -->
<g id="nut2">
<rect x="186.9" y="277.7" width="15.7" height="33.6" stroke-width="1.2"/>
<path d="M186.9,294.9 L202.6,294.9" stroke-width="1"/>
<path d="M190.4,278.6 L198.6,278.6 L201.8,286.6 L198.6,294.3 L190.4,294.3 L187.4,286.6 Z" stroke-width="0.8"/>
<path d="M190.4,295.6 L198.6,295.6 L201.8,303.3 L198.6,310.6 L190.4,310.6 L187.4,303.3 Z" stroke-width="0.8"/>
<path d="M187.2,278 L189.6,286.6 L187.2,294.6 L189.6,303.3 L187.2,311 M202.2,278 L200,286.6 L202.2,294.6 L200,303.3 L202.2,311" stroke-width="0.6" stroke="#555"/>
</g>
<use href="#nut2" y="175.4"/>

<!-- body -->
<path d="M172,274.8 L186.7,274.8 L186.7,489.8 L172,489.8" stroke-width="1.1"/>
<path d="M184.8,274.8 L184.8,489.8" stroke-width="0.9"/>
<path d="M164.2,296.4 L184.8,296.4 M163.6,468.3 L184.8,468.3" stroke-width="0.9"/>
<path d="M143.5,375.5 L185.6,375.5 M143.5,389.3 L185.6,389.3" stroke-width="0.9"/>
<!-- body left outer curve top -->
<path d="M172,274.8 C166,282 162,292 157.2,305 C153,317 150,327 146.5,338 C144.9,345 143,350 139.4,352.2 C137.5,353.2 136,353.6 134,353.8" stroke-width="1.1" stroke="#222"/>
<path d="M172,489.8 C166,482.6 162,472.6 157.2,459.6 C153,447.6 150,437.6 146.5,426.6 C144.9,419.6 143,414.6 139.4,412.4 C137.5,411.4 136,411 134,410.8" stroke-width="1.1" stroke="#222"/>
<path d="M173.8,275.2 C168,283 164.2,293 159.6,305.5 C155.6,317.5 152.6,327.5 149.4,338 C147.5,346 146.4,353 145.8,358.5 C145,366 144,374.5 140.9,382.3" stroke-width="0.9" stroke="#222"/>
<path d="M173.8,489.4 C168,481.6 164.2,471.6 159.6,459.1 C155.6,447.1 152.6,437.1 149.4,426.6 C147.5,418.6 146.4,411.6 145.8,406.1 C145,398.6 144,390.1 140.9,382.3" stroke-width="0.9" stroke="#222"/>
<path d="M170.4,277 C165.6,284.6 162.4,293 158.4,304" stroke-width="0.7" stroke="#333"/>
<path d="M170.4,487.6 C165.6,480 162.4,471.6 158.4,460.6" stroke-width="0.7" stroke="#333"/>
<path d="M149.4,338 C149,346 148.2,353 147.4,359 C146.4,367 145.4,375 141.1,382.3" stroke-width="0.8" stroke="#333"/>
<path d="M149.4,426.6 C149,418.6 148.2,411.6 147.4,405.6 C146.4,397.6 145.4,389.6 141.1,382.3" stroke-width="0.8" stroke="#333"/>
<path d="M146.5,338 C146.6,345 146.2,352 145.8,358.5" stroke-width="0.7" stroke="#444"/>
<path d="M146.5,426.6 C146.6,419.6 146.2,412.6 145.8,406.1" stroke-width="0.7" stroke="#444"/>
<path d="M143.4,375.5 C142,377.5 141.2,380 140.9,382.3 C141.2,384.6 142,387.1 143.4,389.1" stroke-width="0.8"/>
<!-- neck -->
<path d="M109.4,354.2 L134.5,354.2 M109.4,410.8 L134.5,410.8" stroke-width="1"/>
<path d="M114.2,354.2 L114.2,410.8" stroke-width="1.5"/>
<path d="M134.3,354.2 C141.6,371 141.6,394 134.3,410.8" stroke-width="0.8"/>
<!-- cap -->
<path d="M73.4,351.1 L109.3,351.1 L109.3,354.5 C106,371 106,394 109.3,410.6 L109.3,414.3 L73.4,414.3" stroke-width="1.1"/>
<path d="M109.3,354.5 L109.3,410.6" stroke-width="0.7"/>
<path d="M73.7,351.6 L73.7,413.8" stroke-width="0.9"/>
<path d="M73.4,351.1 C64.8,364 64.8,401 73.4,414.3" stroke-width="1"/>
<path d="M71.6,360 C67.6,372 67.6,393 71.6,405" stroke-width="3.4" stroke="#222" stroke-linecap="butt"/>
<path d="M72.2,364 C69.6,374 69.6,391 72.2,401" stroke-width="0.7" stroke="#bbb"/>

<!-- dim 184 -->
<path d="M45.5,274.5 L163.4,274.5 M45.5,489.8 L163.4,489.8" stroke-width="0.9"/>
<path d="M46,274.5 L46,489.8" stroke-width="0.9"/>
<path d="M46,274.6 L42.8,289 L49.2,289 Z M46,489.7 L42.8,475.8 L49.2,475.8 Z" fill="#111" stroke="none"/>

<!-- ================= VIEW 3 : open/close top-right ================= -->
<!-- stub -->
<rect x="472" y="78.7" width="19.6" height="22.4" rx="1" stroke-width="1.4" fill="#fff"/>
<path d="M491.6,79.6 L494.2,79.6 L494.2,100.2 L491.6,100.2" stroke-width="0.8"/>
<path d="M490,79 L490,101" stroke-width="0.7"/>
<!-- flange -->
<path d="M494.7,42.2 L503.5,42.2 L503.5,111.9 L494.7,111.9 Z" stroke-width="1.1"/>
<path d="M503.5,42.2 L515.9,61.5 L515.9,93 L503.5,111.9" stroke-width="1"/>
<path d="M514.3,61 L514.3,93.4" stroke-width="0.8"/>
<!-- nut -->
<path d="M518.6,59.4 L528.2,59.4 L530.4,62.8 L530.4,91.3 L528.2,94.7 L518.6,94.7 L516.3,91.3 L516.3,62.8 Z" stroke-width="1.2"/>
<path d="M517.6,67.4 L529.4,67.4 M517.6,86.7 L529.4,86.7" stroke-width="1"/>
<path d="M517.6,67.4 L517.6,86.7 M529.4,67.4 L529.4,86.7" stroke-width="0.9"/>
<path d="M517.6,67.4 C516.4,65 516.6,63 517.8,61.2 C519.6,59.6 527.2,59.6 529,61.2 C530.2,63 530.4,65 529.4,67.4" stroke-width="0.8"/>
<path d="M517.6,86.7 C516.4,89 516.6,91 517.8,92.9 C519.6,94.5 527.2,94.5 529,92.9 C530.2,91 530.4,89 529.4,86.7" stroke-width="0.8"/>
<!-- body -->
<path d="M602.5,50.6 L531.8,50.6 L531.8,103.9 L602,103.9" stroke-width="1.1"/>
<path d="M598.6,50.6 L598.6,103.9" stroke-width="1.5"/>
<path d="M533,50.6 L533,103.9" stroke-width="0.7"/>
<path d="M532,55.8 L551,55.8 M532,98.6 L551,98.6" stroke-width="0.8"/>
<!-- deco -->
<path d="M569.2,51 C560,55 552,54.6 548.6,58.4 C544.6,63 544.6,72 544.6,78.3 C544.6,85 545,93.6 549,97.6 C553,100.6 562,100 569.6,103.6" stroke-width="0.8"/>
<path d="M567.2,50.8 C559,53.6 551,53.6 547.4,57.4 C543.2,62 543.2,72 543.2,78.3 C543.2,85 543.6,94.6 548,98.8 C552,101.8 561,101.4 567.6,103.8" stroke-width="0.8"/>
<path d="M569.2,51 C573.6,66 573.6,90 569.6,103.6" stroke-width="0.8"/>
<path d="M574.6,50.8 C582.4,66 582.4,90 575,103.8" stroke-width="0.8"/>
<!-- outlet -->
<path d="M534.6,103.9 L534.6,105.4 L559,105.4 L559,103.9" stroke-width="0.8"/>
<rect x="535.8" y="105.4" width="22.2" height="9.7" rx="1.2" stroke-width="1.3" fill="#fff"/>
<!-- cap closed -->
<path d="M605,48.4 L639.6,48.4 M605,48.4 C603.6,60 602.4,70 602.3,80 L602.3,106 L629.6,106" stroke-width="1.1"/>
<path d="M613,107 L620,107" stroke-width="1.4" stroke="#111"/>
<!-- lever closed -->
<path d="M626,79.4 L638,79.4 M626,79.4 C626.4,88 629,96 629.6,106 L635.3,153 L636.8,172.8 C637.4,174.8 641.2,174.8 642,172.8 L641.9,153 L641.2,100" stroke-width="1.3" stroke="#2a2a2a"/>
<path d="M627,80.2 C630.6,86 632.6,96 633,105.5 L637.4,153 L638.4,173.4" stroke-width="0.9" stroke="#444"/>
<path d="M635.3,153.2 L641.9,153.2" stroke-width="1.1"/>
<path d="M639.3,49 L639.8,106" stroke-width="3" stroke="#111" stroke-linecap="butt"/>
<path d="M637.2,50 L637.2,105 M641.6,52 L641.6,106" stroke-width="0.8" stroke="#333"/>
<path d="M639.8,106 L640.2,153" stroke-width="1.4" stroke="#444"/>
<path d="M638.6,154 L639,173.6 M640.4,154 L640.5,173.6" stroke-width="1" stroke="#666"/>
<!-- open position (dashed) -->
<g stroke="#666" stroke-width="0.9">
<path d="M605.2,49.8 L633.8,37.3" stroke-dasharray="9 3"/>
<path d="M605.4,50.4 L627.4,104.4" stroke-dasharray="9 3"/>
<path d="M628.6,105 L653.2,93.6" stroke="#555"/>
<path d="M641.7,69.2 L645.8,66.8" stroke-width="0.8"/>
<path d="M634.1,37.3 L690,148" stroke-dasharray="12 3.4" stroke-dashoffset="-2" stroke-width="2.1" stroke="#6e6e6e" stroke-linecap="butt"/>
<path d="M650.6,77.4 L687.4,150.2" stroke-dasharray="10 3.4" stroke-width="1.1" stroke="#888" stroke-linecap="butt"/>
<path d="M655,95 L685.4,151.6" stroke-dasharray="10 3.4" stroke-width="1.3" stroke="#777" stroke-linecap="butt"/>
<path d="M647.8,83.4 L653.2,93.6 M644.4,85.6 L649.8,95.8" stroke-width="1.3" stroke="#777"/>
<path d="M685.4,151.6 C686.8,153 690.6,151 690,148" stroke-width="1"/>
</g>
<!-- open/close arc -->
<path d="M649,198.6 C655,201.4 664,202.4 671,199.6 C680,195.6 687.5,187 690.8,177.6" stroke-width="1"/>
<path d="M636.7,198 L650.4,195.7 L650,201.5 Z M694.5,165.5 L687.8,177 L693.9,179.5 Z" fill="#111" stroke="none"/>

<!-- ================= VIEW 4 : hot/cold bottom-right ================= -->
<circle cx="511.5" cy="332" r="36.9" stroke-width="1.3"/>
<circle cx="685" cy="332" r="36.9" stroke-width="1.3"/>
</g>
<!-- body white cover -->
<path d="M514.3,309.8 L580,304.8 L617,304.8 L682.6,309.7 A22,22 0 0 1 682.6,353.7 L628,357.8 L569,357.8 L514.3,353.9 A22,22 0 0 1 514.3,309.8 Z" fill="#fff" stroke="none"/>
<g fill="none" stroke="#2a2a2a" stroke-width="1" stroke-linecap="round" stroke-linejoin="round">
<path d="M581,304.7 L514.3,309.8 A22.05,22.05 0 0 0 514.3,353.9 L570.6,357.8" stroke-width="1.2"/>
<path d="M580,305.6 L514.5,310.9 A21,21 0 0 0 514.5,352.8 L570,356.8" stroke-width="0.9" stroke="#444"/>
<path d="M616.4,304.7 L682.6,309.7 A22,22 0 0 1 682.6,353.7 L626.6,357.8" stroke-width="1.2"/>
<path d="M617,305.6 L682.4,310.8 A20.95,20.95 0 0 1 682.4,352.6 L627,356.8" stroke-width="0.9" stroke="#444"/>
<!-- hub arcs -->
<path d="M573.6,306.4 A36.3,36.3 0 0 0 571.2,357" stroke-width="1" stroke="#444"/>
<path d="M623.2,306.4 A36.3,36.3 0 0 1 625.6,357" stroke-width="1" stroke="#444"/>
<!-- rotated handles -->
<g id="rh" stroke="#6a6a6a">
<path d="M568.4,332 A30.2,30.2 0 0 1 628.8,332 L622.8,409.7 A24.2,24.2 0 0 1 574.4,409.7 Z" stroke-dasharray="9.5 3.2" stroke-width="2.4" stroke="#989898" stroke-linecap="butt"/>
<path d="M568.4,332 A30.2,30.2 0 0 1 628.8,332 L622.8,409.7 A24.2,24.2 0 0 1 574.4,409.7 Z" stroke-dasharray="9.5 3.2" stroke-width="0.7" stroke="#e8e8e8" stroke-linecap="butt"/>
<path d="M579.8,332 A18.8,18.8 0 0 1 617.4,332 L614.1,407.8 A15.5,15.5 0 0 1 583.1,407.8 Z" stroke-width="1.4" stroke="#555"/>
<path d="M581.6,332 A17,17 0 0 1 615.6,332 L612.3,407.8 A13.7,13.7 0 0 1 584.9,407.8 Z" stroke-width="0.9" stroke="#777"/>
<path d="M581.6,365.3 A17,17 0 0 1 615.6,365.3" stroke-width="1" stroke="#777"/>
</g>
<use href="#rh" transform="rotate(45 598.6 332)"/>
<use href="#rh" transform="rotate(-45 598.6 332)"/>
<!-- main handle -->
<path d="M567.6,332 A31,31 0 0 1 629.6,332 L623.6,409.7 A25,25 0 0 1 573.6,409.7 Z" stroke-width="1.5" stroke="#3a3a3a"/>
<path d="M569.6,332 A29,29 0 0 1 627.6,332 L621.6,409.7 A23,23 0 0 1 575.6,409.7 Z" stroke-width="1.2" stroke="#4a4a4a"/>
<path d="M579.8,332 A18.8,18.8 0 0 1 617.4,332 L614.1,407.8 A15.5,15.5 0 0 1 583.1,407.8 Z" stroke-width="2.2" stroke="#3c3c3c"/>
<path d="M582,332 A16.6,16.6 0 0 1 615.2,332 L611.9,407.8 A13.3,13.3 0 0 1 585.3,407.8 Z" stroke-width="0.8" stroke="#555"/>
<path d="M584.4,412 A14.6,14.6 0 0 0 612.8,412" stroke-width="1.8" stroke="#222"/>
<!-- centre details -->
<path d="M581.6,365.3 A17,17 0 0 1 615.6,365.3" stroke-width="1.3" stroke="#222"/>
<path d="M586.1,371.9 L586.1,363.2 L610.5,363.2 L610.5,371.9" stroke-width="1.2" stroke="#222"/>
<path d="M585.6,372 L611,372" stroke-width="1.7" stroke="#222"/>
<path d="M581.6,365.3 C582,368 584,371 586,372 M615.6,365.3 C615.2,368 613.2,371 611.2,372" stroke-width="1" stroke="#333"/>
<path d="M594.4,354 L602,361 M602,354 L594.4,361" stroke-width="1.6" stroke="#666"/>
<!-- hot/cold arc -->
<path d="M542.6,458.4 A59,59 0 0 0 654.4,455" stroke-width="1.4"/>
<path d="M537.7,465.7 L542,457.6 L551.3,462.8 M644.6,459 L654.7,454.1 L657.6,461.9" stroke-width="1.4"/>
</g>

<!-- ================= TEXT ================= -->
<g font-size="18.3" opacity="0.99" style="text-rendering:geometricPrecision">
<text x="199.8" y="198.8" text-anchor="middle" font-size="17.2">48</text>
<text x="147.4" y="223.3" text-anchor="middle" font-size="17.2">136</text>
<text transform="translate(45.1,378.6) rotate(-90)" text-anchor="middle" font-size="17.3">184</text>
<text transform="translate(297,75.6) rotate(-90)" text-anchor="middle" font-size="17.8">2-G1/2</text>
<text x="701.7" y="152.1">OPEN</text>
<text x="569.9" y="209.4">CLOSE</text>
<text x="508.3" y="450.9">HOT</text>
<text x="640.7" y="447.4">COLD</text>
<text x="591" y="518.2">90°</text>
</g>
</svg>

</body></html>
